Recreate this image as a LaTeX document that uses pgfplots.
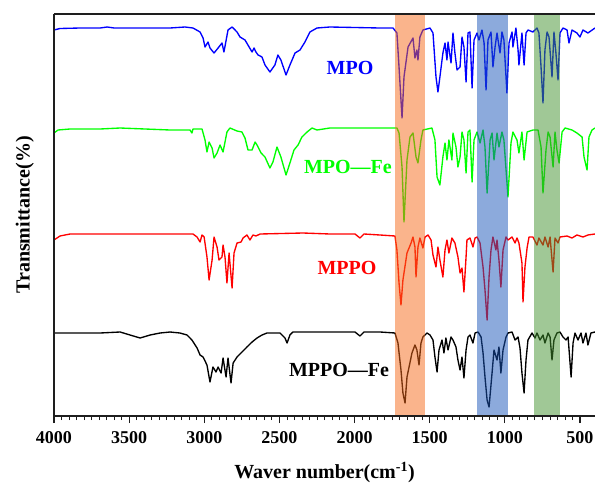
\documentclass[border=0pt]{standalone}
\usepackage{fontspec}
\setmainfont{Liberation Serif}
\usepackage{pgfplots}
\pgfplotsset{compat=1.18}

\definecolor{bandOrange}{RGB}{245,105,25}
\definecolor{bandBlue}{RGB}{25,85,185}
\definecolor{bandGreen}{RGB}{65,145,45}
\definecolor{frameInk}{RGB}{30,30,30}

\begin{document}
\begin{tikzpicture}
  \path[use as bounding box] (-54pt,-67pt) rectangle (541pt,416pt);
  \begin{axis}[
    at={(0pt,0pt)}, anchor=south west,
    scale only axis,
    width=541pt, height=402pt,
    x dir=reverse,
    xmin=400, xmax=4000,
    ymin=0, ymax=402,
    clip=false,
    axis line style={draw=none},
    xtick={500,1000,...,4000},
    minor x tick num=9,
    xtick pos=bottom,
    tick align=outside,
    major tick length=7pt,
    minor tick length=4pt,
    tick style={frameInk, line width=1.1pt},
    minor tick style={line width=0.8pt},
    ytick=\empty,
    /pgf/number format/assume math mode=true,
    /pgf/number format/1000 sep={},
    xticklabel style={font=\fontsize{18}{20}\selectfont\bfseries, yshift=-5pt},
    xlabel={Waver number(cm\textsuperscript{-1})},
    ylabel={Transmittance(\%)},
    label style={font=\fontsize{20}{22}\selectfont\bfseries},
    xlabel style={at={(axis description cs:0.5,-0.141)}, anchor=center},
    ylabel style={at={(axis description cs:-0.054,0.5)}, anchor=center},
    every axis plot/.append style={line width=1.35pt, line join=round},
  ]
    % MPO
    \addplot[blue] table {
      x y
      4000 386
      3960 387.5
      3826 388
      3693 388
      3647 389
      3600 388
      3228 388
      3128 389
      3075 388
      3028 384
      3008 378
      2995 369
      2975 374
      2962 368
      2935 363
      2908 368
      2882 373
      2869 364
      2842 386
      2815 389
      2782 384
      2762 379
      2729 376
      2682 364
      2669 368
      2656 364
      2642 361
      2616 359
      2596 351
      2563 344
      2530 351
      2510 361
      2490 356
      2456 341
      2430 351
      2396 363
      2363 366
      2330 374
      2297 384
      2250 388
      2164 389
      1831 388
      1744 388
      1718 383
      1704 349
      1684 298
      1671 339
      1644 369
      1611 378
      1598 358
      1585 366
      1578 356
      1565 379
      1545 386
      1498 388
      1478 383
      1458 339
      1445 324
      1432 339
      1412 363
      1398 373
      1385 356
      1378 374
      1358 353
      1345 383
      1332 363
      1318 346
      1298 349
      1285 379
      1272 369
      1258 334
      1245 383
      1232 384
      1218 328
      1205 376
      1185 383
      1172 376
      1152 386
      1138 373
      1125 326
      1112 376
      1092 384
      1079 349
      1065 369
      1052 383
      1032 363
      1019 384
      1006 376
      986 323
      972 373
      952 384
      946 369
      926 388
      912 366
      906 351
      886 383
      872 351
      859 383
      846 386
      813 384
      786 388
      773 383
      759 349
      746 313
      733 366
      719 384
      706 379
      686 339
      673 384
      660 363
      646 336
      633 383
      613 388
      586 386
      573 373
      553 386
      520 383
      500 379
      480 386
      447 383
      400 388
    };
    % MPO--Fe
    \addplot[green] table {
      x y
      4000 283
      3973 286
      3893 287
      3693 287
      3560 288
      3228 286
      3095 286
      3082 283
      3075 287
      3015 287
      2995 276
      2982 264
      2968 274
      2948 268
      2935 258
      2915 263
      2895 271
      2875 264
      2862 274
      2849 284
      2829 288
      2782 285
      2749 284
      2729 278
      2709 266
      2682 266
      2662 274
      2649 271
      2622 263
      2596 259
      2563 248
      2543 254
      2516 269
      2490 259
      2456 241
      2430 253
      2403 266
      2376 271
      2350 279
      2316 284
      2283 288
      2250 286
      2164 288
      1831 288
      1718 288
      1704 283
      1684 249
      1671 194
      1651 256
      1631 279
      1611 283
      1591 259
      1578 253
      1558 276
      1545 286
      1485 288
      1465 276
      1451 239
      1432 231
      1412 259
      1398 273
      1385 256
      1372 276
      1352 256
      1345 283
      1325 269
      1312 249
      1298 259
      1285 284
      1272 276
      1258 243
      1245 284
      1232 286
      1218 234
      1205 276
      1185 284
      1165 273
      1145 286
      1132 269
      1118 223
      1098 276
      1085 283
      1072 256
      1052 283
      1039 269
      1019 284
      1006 276
      979 219
      959 273
      946 284
      919 276
      906 263
      886 284
      872 256
      852 284
      813 286
      779 286
      759 269
      746 223
      726 266
      712 284
      699 279
      679 249
      666 284
      653 266
      639 253
      619 284
      599 288
      553 286
      520 283
      486 279
      473 259
      453 246
      440 279
      420 286
      400 288
    };
    % MPPO
    \addplot[red] table {
      x y
      4000 176
      3960 180
      3893 182
      3228 182
      3075 182
      3048 179
      3028 174
      3015 181
      3001 179
      2982 159
      2968 136
      2948 156
      2935 179
      2915 169
      2902 156
      2882 159
      2875 171
      2862 159
      2849 133
      2835 163
      2815 128
      2802 163
      2782 173
      2755 174
      2742 178
      2716 181
      2696 176
      2676 181
      2656 180
      2629 182
      2343 183
      2164 182
      1997 182
      1964 178
      1937 182
      1831 181
      1731 180
      1718 166
      1704 133
      1691 111
      1678 136
      1651 163
      1624 173
      1611 179
      1598 169
      1591 139
      1578 169
      1565 178
      1545 168
      1531 179
      1511 181
      1491 176
      1478 161
      1458 149
      1445 169
      1432 156
      1412 139
      1398 166
      1385 176
      1372 163
      1352 178
      1332 173
      1312 159
      1298 143
      1285 148
      1272 124
      1258 159
      1252 176
      1232 178
      1212 169
      1198 178
      1185 179
      1165 173
      1145 149
      1132 126
      1118 96
      1105 139
      1092 166
      1079 179
      1059 166
      1052 176
      1039 156
      1026 129
      1012 166
      992 179
      979 176
      952 179
      932 173
      919 178
      906 173
      886 153
      879 114
      866 149
      852 168
      839 179
      813 179
      786 171
      773 178
      746 171
      733 179
      712 169
      699 179
      679 144
      666 178
      646 173
      633 179
      586 180
      553 178
      520 181
      480 179
      447 181
      400 182
    };
    % MPPO--Fe
    \addplot[black] table {
      x y
      4000 83
      3693 83
      3560 84
      3494 81
      3427 78
      3360 81
      3294 83
      3228 84
      3162 83
      3115 81
      3082 76
      3048 68
      3028 61
      3008 59
      2982 51
      2962 34
      2942 49
      2922 44
      2908 49
      2888 43
      2875 58
      2855 39
      2842 58
      2822 33
      2808 53
      2782 59
      2749 64
      2716 69
      2682 74
      2649 78
      2616 81
      2583 83
      2543 83
      2496 83
      2463 78
      2449 73
      2430 81
      2410 84
      2164 84
      1997 84
      1964 80
      1937 84
      1831 84
      1731 83
      1711 73
      1691 46
      1678 23
      1664 13
      1651 39
      1618 63
      1598 71
      1585 66
      1571 51
      1558 73
      1545 79
      1518 83
      1498 81
      1478 76
      1465 59
      1451 44
      1438 66
      1418 76
      1405 63
      1392 78
      1378 66
      1358 79
      1345 76
      1325 69
      1312 56
      1298 46
      1285 59
      1272 38
      1258 66
      1245 79
      1232 81
      1212 73
      1198 83
      1178 84
      1158 79
      1145 63
      1132 39
      1118 16
      1105 9
      1085 43
      1072 66
      1052 56
      1039 69
      1026 43
      1012 66
      992 79
      979 83
      952 84
      932 76
      912 79
      899 68
      886 43
      872 23
      859 56
      846 76
      819 83
      799 78
      786 83
      766 76
      746 81
      733 73
      712 83
      699 79
      686 56
      673 76
      653 83
      633 84
      613 79
      593 76
      579 79
      559 39
      546 73
      533 83
      513 76
      493 83
      480 73
      460 83
      447 71
      427 83
      400 84
    };
    % highlighted regions
    \fill[bandOrange, opacity=0.5] (axis cs:1729,0) rectangle (axis cs:1530,402);
    \fill[bandBlue, opacity=0.5] (axis cs:1184,0) rectangle (axis cs:978,402);
    \fill[bandGreen, opacity=0.5] (axis cs:806,0) rectangle (axis cs:633,402);
    % frame: left, bottom and top
    \draw[frameInk, line width=1.3pt] (rel axis cs:0,1) -- (rel axis cs:0,0) -- (rel axis cs:1,0);
    \draw[frameInk, line width=1.3pt] (rel axis cs:0,1) -- (rel axis cs:1,1);
    % curve labels
    \begin{scope}[font=\fontsize{20}{22}\selectfont\bfseries]
      \node[blue] at (axis cs:2030,348) {MPO};
      \node[green] at (axis cs:2044,249) {MPO\textemdash Fe};
      \node[red] at (axis cs:2050,148) {MPPO};
      \node[black] at (axis cs:2103,46) {MPPO\textemdash Fe};
    \end{scope}
  \end{axis}
\end{tikzpicture}
\end{document}
